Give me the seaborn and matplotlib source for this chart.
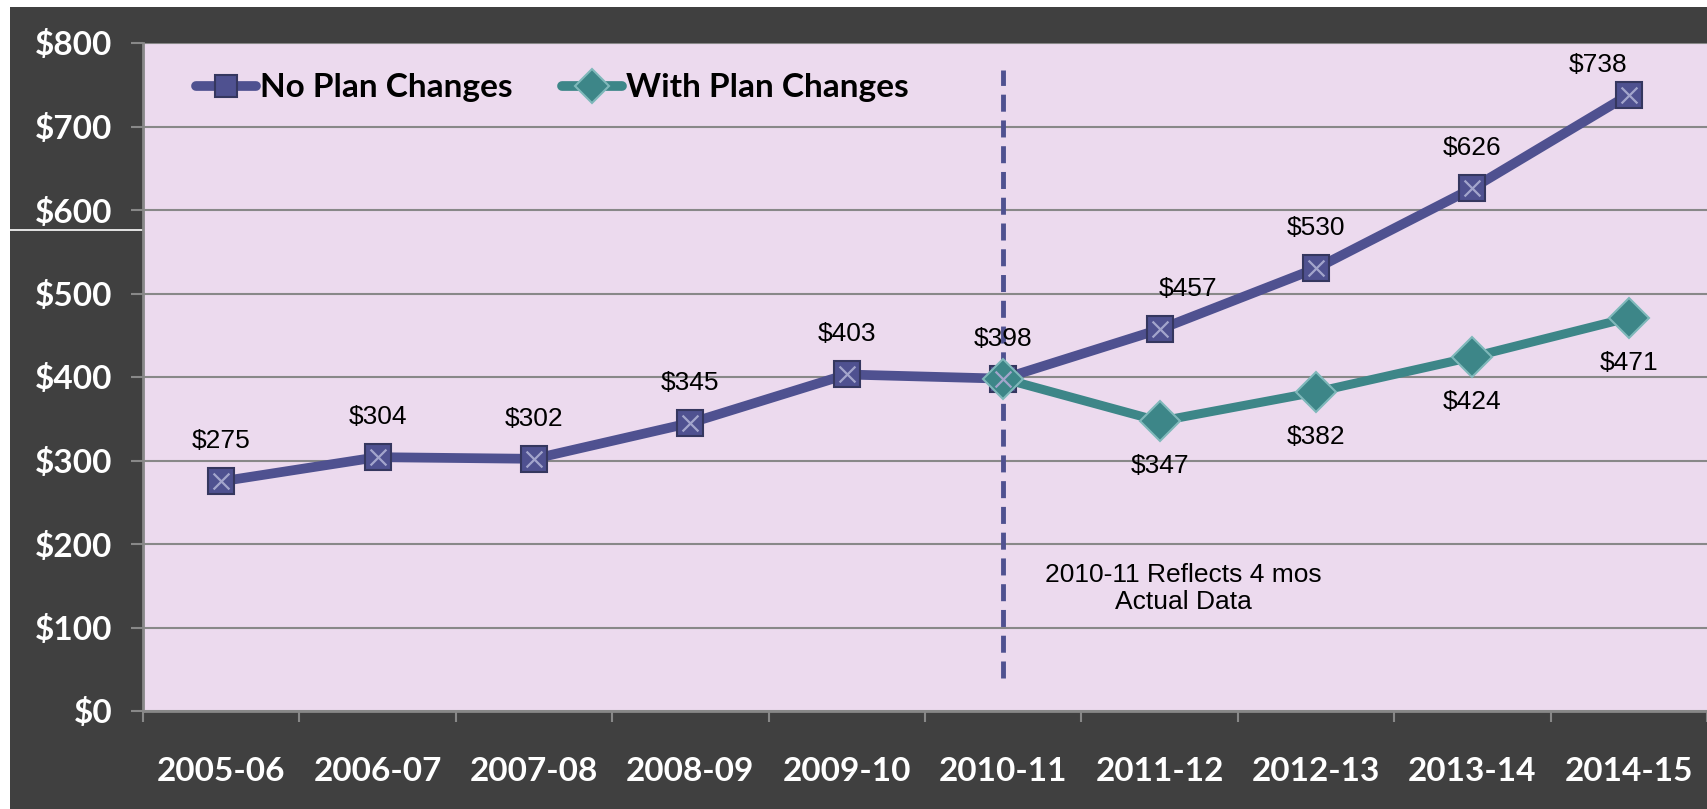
import pandas as pd
import matplotlib.pyplot as plt
import seaborn as sns
from matplotlib.patches import Rectangle
from matplotlib.lines import Line2D
from matplotlib.ticker import MultipleLocator, FuncFormatter

# Chart data
years = ['2005-06', '2006-07', '2007-08', '2008-09', '2009-10',
         '2010-11', '2011-12', '2012-13', '2013-14', '2014-15']
no_plan = [275, 304, 302, 345, 403, 398, 457, 530, 626, 738]
with_plan = [None, None, None, None, None, 398, 347, 382, 424, 471]
series_names = ['No Plan Changes', 'With Plan Changes']
note_text = '2010-11 Reflects 4 mos\nActual Data'

navy = '#4f5190'
teal = '#3d8688'
bg_dark = '#404040'
plot_bg = '#ecdaee'
grid_gray = '#888888'

df = pd.DataFrame({
    'year': years * 2,
    'cost': no_plan + with_plan,
    'series': [series_names[0]] * len(years) + [series_names[1]] * len(years),
}).dropna()

sns.set_theme(style='white')
plt.rcParams['font.family'] = ['Lato', 'DejaVu Sans']
narrow = ['Liberation Sans Narrow', 'Liberation Sans', 'DejaVu Sans']

fig = plt.figure(figsize=(17.07, 8.09), dpi=100, facecolor='white')
# dark frame behind the chart (white strip on top and left)
fig.patches.append(Rectangle((10 / 1707, 0), 1, (809 - 7) / 809,
                             transform=fig.transFigure, facecolor=bg_dark,
                             edgecolor='none', zorder=-10))
fig.lines.append(Line2D([10 / 1707, 143 / 1707], [1 - 230 / 809] * 2,
                        transform=fig.transFigure, color='white', lw=1.2,
                        zorder=-5))

ax = fig.add_axes([143 / 1707, 1 - 711 / 809, 1 - 143 / 1707, (711 - 43) / 809])
ax.set_zorder(1)
ax.set_facecolor(plot_bg)

sns.lineplot(data=df, x='year', y='cost', hue='series', style='series',
             palette={series_names[0]: navy, series_names[1]: teal},
             markers={series_names[0]: 's', series_names[1]: 'D'},
             dashes=False, sort=False, linewidth=7, markersize=19,
             markeredgecolor='#35375f', markeredgewidth=1.5, ax=ax, zorder=3)

# light cross pattern on the square markers
sns.scatterplot(x=years, y=no_plan, marker='x', s=130, color='#a3a5cc',
                linewidth=1.6, ax=ax, zorder=4, legend=False)

# recolor diamond edges
for ln in ax.lines:
    if ln.get_marker() == 'D':
        ln.set_markeredgecolor('#7fb8ba')
        ln.set_markersize(20)
        ln.set_linewidth(6.5)

# vertical divider at 2010-11
x_div = years.index('2010-11')
ax.plot([x_div, x_div], [40, 768], color=navy, lw=3.5, ls=(0, (3.5, 1.8)), zorder=2)
ax.text(x_div + 1.15, 147, note_text, ha='center', va='center', fontsize=19,
        family=narrow, color='black', linespacing=1.15)

# data labels
label_dx = {6: 0.18, 9: -0.2}
label_dy = {9: 36}
for i, v in enumerate(no_plan):
    ax.text(i + label_dx.get(i, 0), v + label_dy.get(i, 48), f'${v}',
            ha='center', va='center', fontsize=19, family=narrow,
            color='black', zorder=5)
for i, v in enumerate(with_plan):
    if v is None or i == x_div:
        continue
    ax.text(i, v - 54, f'${v}', ha='center', va='center', fontsize=19,
            family=narrow, color='black', zorder=5)

ax.set_xlim(-0.5, len(years) - 0.5)
ax.set_ylim(0, 800)
ax.yaxis.set_major_locator(MultipleLocator(100))
ax.yaxis.set_major_formatter(FuncFormatter(lambda v, p: f'${v:.0f}'))
ax.grid(axis='y', color=grid_gray, linewidth=1.5)
ax.set_axisbelow(True)

ax.set_xticks(range(len(years)))
ax.set_xticklabels(years)
ax.set_xticks([i - 0.5 for i in range(len(years) + 1)], minor=True)
ax.tick_params(axis='x', which='major', length=0, pad=33, labelsize=24,
               labelcolor='white')
ax.tick_params(axis='x', which='minor', length=8, width=1.5, color=grid_gray,
               direction='out', bottom=True)
ax.tick_params(axis='y', length=9, width=1.5, color=grid_gray, direction='out',
               left=True, pad=13, labelsize=24, labelcolor='white')
for lab in ax.get_xticklabels() + ax.get_yticklabels():
    lab.set_fontweight('bold')

for side in ['top', 'right']:
    ax.spines[side].set_visible(False)
for side in ['left', 'bottom']:
    ax.spines[side].set_color(grid_gray)
    ax.spines[side].set_linewidth(2)

ax.set_xlabel('')
ax.set_ylabel('')

leg = ax.legend(loc='center left', bbox_to_anchor=(0.015, 0.933), ncol=2,
                frameon=False, handlelength=1.8, markerscale=0.85,
                handletextpad=0.1, columnspacing=1.5,
                prop={'weight': 'bold', 'size': 24})
for h in leg.legend_handles:
    h.set_linewidth(7)
for t in leg.get_texts():
    t.set_color('black')

fig.savefig('out.png', dpi=100, facecolor=fig.get_facecolor())
